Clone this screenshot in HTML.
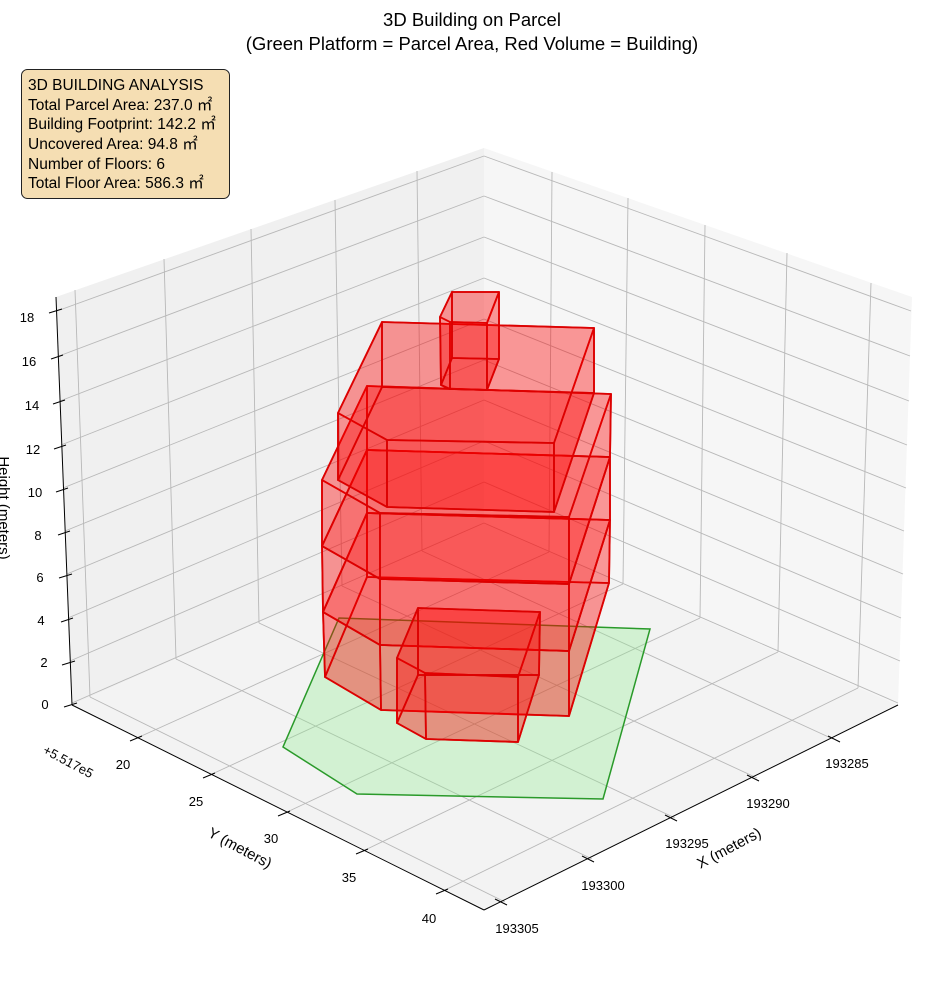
<!DOCTYPE html>
<html><head><meta charset="utf-8"><style>
html,body{margin:0;padding:0;background:#fff;}
svg{display:block;font-family:"Liberation Sans","Noto Sans CJK SC",sans-serif;}
</style></head><body>
<svg width="944" height="992" viewBox="0 0 944 992" xmlns="http://www.w3.org/2000/svg">
<polygon points="56,297 484,148 484,523 72,705" fill="#f0f0f0"/>
<polygon points="484,148 912,297 898,705 484,523" fill="#f6f6f6"/>
<polygon points="72,705 484,523 898,705 484,910" fill="#f3f3f3"/>
<g stroke="#b8b8b8" stroke-width="0.9" fill="none">
<line x1="72" y1="703" x2="484" y2="523"/>
<line x1="70" y1="661" x2="484" y2="482"/>
<line x1="68" y1="618" x2="484" y2="441"/>
<line x1="67" y1="574" x2="484" y2="400"/>
<line x1="65" y1="531" x2="484" y2="360"/>
<line x1="63" y1="488" x2="484" y2="319"/>
<line x1="61" y1="445" x2="484" y2="278"/>
<line x1="60" y1="401" x2="484" y2="237"/>
<line x1="59" y1="356" x2="484" y2="196"/>
<line x1="57" y1="311" x2="484" y2="156"/>
<line x1="484" y1="523" x2="898" y2="703"/>
<line x1="484" y1="482" x2="900" y2="661"/>
<line x1="484" y1="441" x2="901" y2="618"/>
<line x1="484" y1="400" x2="903" y2="574"/>
<line x1="484" y1="360" x2="904" y2="531"/>
<line x1="484" y1="319" x2="906" y2="488"/>
<line x1="484" y1="278" x2="907" y2="445"/>
<line x1="484" y1="237" x2="909" y2="401"/>
<line x1="484" y1="196" x2="910" y2="356"/>
<line x1="484" y1="156" x2="911" y2="311"/>
<line x1="75" y1="290" x2="90" y2="697"/>
<line x1="164" y1="259" x2="176" y2="659"/>
<line x1="251" y1="229" x2="259" y2="623"/>
<line x1="335" y1="200" x2="342" y2="586"/>
<line x1="417" y1="171" x2="422" y2="551"/>
<line x1="552" y1="172" x2="549" y2="552"/>
<line x1="628" y1="198" x2="623" y2="584"/>
<line x1="705" y1="225" x2="700" y2="618"/>
<line x1="787" y1="253" x2="778" y2="652"/>
<line x1="871" y1="283" x2="858" y2="688"/>
<line x1="90" y1="697" x2="505" y2="902"/>
<line x1="176" y1="659" x2="592" y2="859"/>
<line x1="259" y1="623" x2="675" y2="818"/>
<line x1="342" y1="586" x2="757" y2="778"/>
<line x1="422" y1="551" x2="833" y2="739"/>
<line x1="549" y1="552" x2="137" y2="738"/>
<line x1="623" y1="584" x2="210" y2="775"/>
<line x1="700" y1="618" x2="285" y2="813"/>
<line x1="778" y1="652" x2="363" y2="851"/>
<line x1="858" y1="688" x2="443" y2="891"/>
</g>
<g stroke="#000" stroke-width="1" fill="none">
<line x1="56" y1="297" x2="72" y2="705"/>
<line x1="72" y1="705" x2="484" y2="910"/>
<line x1="484" y1="910" x2="898" y2="705"/>
<line x1="64" y1="707" x2="77" y2="703"/>
<line x1="62" y1="665" x2="75" y2="661"/>
<line x1="61" y1="622" x2="73" y2="618"/>
<line x1="59" y1="578" x2="72" y2="574"/>
<line x1="58" y1="535" x2="70" y2="531"/>
<line x1="56" y1="492" x2="68" y2="488"/>
<line x1="54" y1="449" x2="66" y2="445"/>
<line x1="53" y1="404" x2="65" y2="400"/>
<line x1="51" y1="359" x2="63" y2="355"/>
<line x1="49" y1="313" x2="62" y2="309"/>
<line x1="130" y1="741" x2="142" y2="736"/>
<line x1="203" y1="778" x2="215" y2="773"/>
<line x1="278" y1="816" x2="290" y2="811"/>
<line x1="356" y1="854" x2="368" y2="849"/>
<line x1="436" y1="894" x2="448" y2="889"/>
<line x1="495" y1="899" x2="507" y2="905"/>
<line x1="582" y1="856" x2="594" y2="862"/>
<line x1="665" y1="815" x2="677" y2="821"/>
<line x1="747" y1="775" x2="759" y2="781"/>
<line x1="828" y1="736" x2="840" y2="742"/>
</g>
<polygon points="283,747 357,794 603,799 650,629 339,618" fill="rgba(144,238,144,0.33)" stroke="#2a9a2a" stroke-width="1.5"/>
<g fill="rgba(255,0,0,0.22)" stroke="rgb(220,0,0)" stroke-width="1.8" stroke-opacity="0.9" stroke-linejoin="round">
<polygon points="325,677 381,710 569,716 609,583 367,577"/>
<polygon points="323,612 380,645 569,651 610,520 367,513"/>
<polygon points="325,677 381,710 380,645 323,612"/>
<polygon points="381,710 569,716 569,651 380,645"/>
<polygon points="569,716 609,583 610,520 569,651"/>
<polygon points="609,583 367,577 367,513 610,520"/>
<polygon points="367,577 325,677 323,612 367,513"/>
<polygon points="322,546 380,579 569,584 610,457 367,450"/>
<polygon points="323,612 380,645 380,579 322,546"/>
<polygon points="380,645 569,651 569,584 380,579"/>
<polygon points="569,651 610,520 610,457 569,584"/>
<polygon points="610,520 367,513 367,450 610,457"/>
<polygon points="367,513 323,612 322,546 367,450"/>
<polygon points="322,480 380,513 569,517 611,394 367,386"/>
<polygon points="322,546 380,579 380,513 322,480"/>
<polygon points="380,579 569,584 569,517 380,513"/>
<polygon points="569,584 610,457 611,394 569,517"/>
<polygon points="610,457 367,450 367,386 611,394"/>
<polygon points="367,450 322,546 322,480 367,386"/>
<polygon points="338,480 387,507 554,512 594,393 382,387"/>
<polygon points="338,413 387,440 554,443 594,328 382,322"/>
<polygon points="338,480 387,507 387,440 338,413"/>
<polygon points="387,507 554,512 554,443 387,440"/>
<polygon points="554,512 594,393 594,328 554,443"/>
<polygon points="594,393 382,387 382,322 594,328"/>
<polygon points="382,387 338,480 338,413 382,322"/>
<polygon points="441,385 450,389 487,390 499,359 452,358"/>
<polygon points="440,317 450,322 487,323 499,292 452,292"/>
<polygon points="441,385 450,389 450,322 440,317"/>
<polygon points="450,389 487,390 487,323 450,322"/>
<polygon points="487,390 499,359 499,292 487,323"/>
<polygon points="499,359 452,358 452,292 499,292"/>
<polygon points="452,358 441,385 440,317 452,292"/>
<polygon points="397,723 426,739 518,742 539,675 418,675"/>
<polygon points="397,658 425,673 518,677 540,612 418,608"/>
<polygon points="397,723 426,739 425,673 397,658"/>
<polygon points="426,739 518,742 518,677 425,673"/>
<polygon points="518,742 539,675 540,612 518,677"/>
<polygon points="539,675 418,675 418,608 540,612"/>
<polygon points="418,675 397,723 397,658 418,608"/>
</g>
<g font-size="13" fill="#000" text-anchor="middle">
<text x="45" y="709">0</text>
<text x="44" y="667">2</text>
<text x="41" y="625">4</text>
<text x="40" y="582">6</text>
<text x="38" y="540">8</text>
<text x="35" y="497">10</text>
<text x="33" y="454">12</text>
<text x="32" y="410">14</text>
<text x="29" y="366">16</text>
<text x="27" y="322">18</text>
<text x="123" y="769">20</text>
<text x="196" y="806">25</text>
<text x="271" y="843">30</text>
<text x="349" y="882">35</text>
<text x="429" y="923">40</text>
<text x="847" y="768">193285</text>
<text x="768" y="808">193290</text>
<text x="687" y="848">193295</text>
<text x="603" y="890">193300</text>
<text x="517" y="933">193305</text>
<text x="68" y="766" transform="rotate(28 68 762)">+5.517e5</text>
</g>
<g font-size="15" fill="#000" text-anchor="middle">
<text x="729" y="853" transform="rotate(-28 729 848)">X (meters)</text>
<text x="240" y="853" transform="rotate(28 240 848)">Y (meters)</text>
<text x="508" y="0" transform="rotate(90 0 0) translate(0,1)">Height (meters)</text>
</g>
<g font-size="18.5" fill="#000" text-anchor="middle">
<text x="472" y="26">3D Building on Parcel</text>
<text x="472" y="50">(Green Platform = Parcel Area, Red Volume = Building)</text>
</g>
<rect x="21.5" y="69.5" width="208" height="129" rx="6" ry="6" fill="#f5deb3" stroke="#222" stroke-width="1"/>
<g font-size="15.5" fill="#000">
<text x="28" y="90">3D BUILDING ANALYSIS</text>
<text x="28" y="110">Total Parcel Area: 237.0 ㎡</text>
<text x="28" y="129">Building Footprint: 142.2 ㎡</text>
<text x="28" y="149">Uncovered Area: 94.8 ㎡</text>
<text x="28" y="169">Number of Floors: 6</text>
<text x="28" y="188">Total Floor Area: 586.3 ㎡</text>
</g>
</svg>
</body></html>
